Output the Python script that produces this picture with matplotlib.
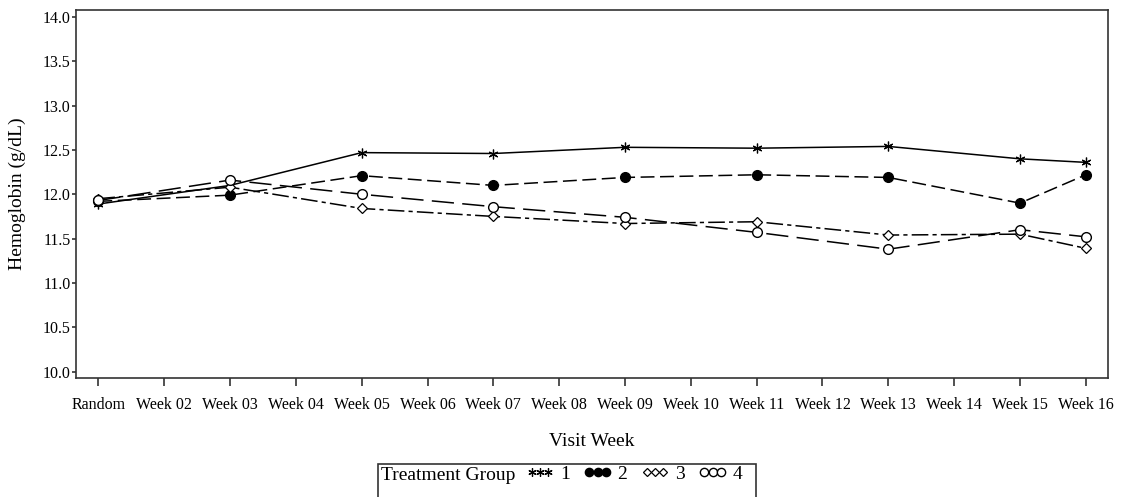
import matplotlib
matplotlib.use('Agg')
import matplotlib.pyplot as plt
from matplotlib.lines import Line2D
from matplotlib.patches import Rectangle

plt.rcParams['font.family'] = ['Liberation Serif', 'DejaVu Serif']
plt.rcParams['lines.scale_dashes'] = False

# visit labels on the x axis
visits = ['Random', 'Week 02', 'Week 03', 'Week 04', 'Week 05', 'Week 06',
          'Week 07', 'Week 08', 'Week 09', 'Week 10', 'Week 11', 'Week 12',
          'Week 13', 'Week 14', 'Week 15', 'Week 16']
# visits actually measured
measured = ['Random', 'Week 03', 'Week 05', 'Week 07', 'Week 09',
            'Week 11', 'Week 13', 'Week 15', 'Week 16']

# mean hemoglobin per treatment group (g/dL)
grp1 = [11.89, 12.10, 12.47, 12.46, 12.53, 12.52, 12.54, 12.40, 12.36]
grp2 = [11.92, 11.99, 12.21, 12.10, 12.19, 12.22, 12.19, 11.90, 12.22]
grp3 = [11.95, 12.08, 11.84, 11.75, 11.67, 11.69, 11.54, 11.55, 11.39]
grp4 = [11.93, 12.16, 12.00, 11.86, 11.74, 11.57, 11.38, 11.60, 11.52]
groups = ['1', '2', '3', '4']

yticks = [10.0, 10.5, 11.0, 11.5, 12.0, 12.5, 13.0, 13.5, 14.0]

# style per group
styles = [
    dict(ls='-', marker=(6, 2, 0), ms=7, mfc='black', mew=0.9),
    dict(ls=(0, (10, 4)), marker='o', ms=7, mfc='black', mew=1.0),
    dict(ls=(0, (12, 3, 3, 3)), marker='D', ms=4.6, mfc='white', mew=0.9),
    dict(ls=(0, (16, 6)), marker='o', ms=7, mfc='white', mew=1.0),
]

fig = plt.figure(figsize=(11.22, 4.97), dpi=100)
ax = fig.add_axes([0.0677, 0.240, 0.92, 0.740])

xpos = [visits.index(v) for v in measured]
for vals, st, g in zip([grp1, grp2, grp3, grp4], styles, groups):
    ax.plot(xpos, vals, color='black', lw=1.1, mec='black', label=g, **st)

ax.set_xlim(-0.34, 15.34)
ax.set_ylim(9.93, 14.08)
ax.set_xticks(range(len(visits)))
ax.set_xticklabels(visits, fontsize=11.5)
ax.set_yticks(yticks)
ax.set_yticklabels(['%.1f' % t for t in yticks], fontsize=11.5)
ax.tick_params(axis='x', direction='out', length=6, width=1.2, pad=8, color='#333333')
ax.tick_params(axis='y', direction='out', length=3, width=1.2, pad=1, color='#333333')
for s in ax.spines.values():
    s.set_linewidth(1.2)
    s.set_color('#333333')

ax.set_xlabel('Visit Week', fontsize=14, labelpad=14)
ax.set_ylabel('Hemoglobin (g/dL)', fontsize=14, labelpad=12)

# legend box at the bottom, cut off by the figure edge like the original
W, H = 1122.0, 497.0
fig.patches.append(Rectangle((378 / W, 1 - 510 / H), (756 - 378) / W, 46 / H,
                             transform=fig.transFigure, fill=False,
                             ec='#333333', lw=1.2))
fig.text(381 / W, 1 - 475 / H, 'Treatment Group', fontsize=14,
         ha='left', va='center')

handles = [Line2D([], [], color='black', ls='none', mec='black',
                  marker=st['marker'], ms=st['ms'] * 0.85, mfc=st['mfc'], mew=st['mew'])
           for st in styles]
fig.legend(handles, groups, ncol=4, frameon=False, fontsize=14, numpoints=3,
           handlelength=1.45, handletextpad=0.3, columnspacing=0.7,
           loc='center left', bbox_to_anchor=(526 / W, 1 - 474 / H),
           borderpad=0, borderaxespad=0)

fig.savefig('out.png', dpi=100)
